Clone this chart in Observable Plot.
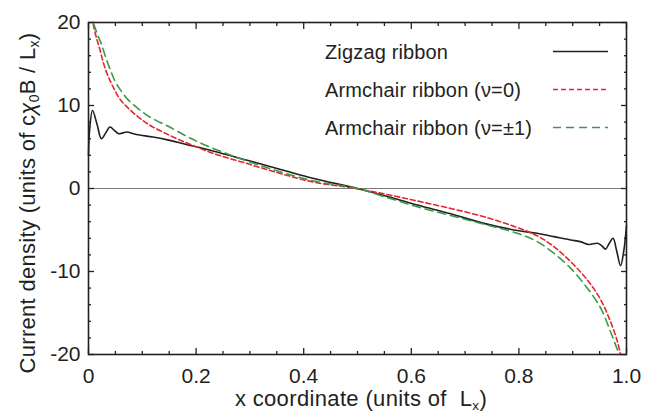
<!DOCTYPE html>
<html>
<head>
<meta charset="utf-8">
<script src="https://cdn.jsdelivr.net/npm/d3@7"></script>
<script src="https://cdn.jsdelivr.net/npm/@observablehq/plot@0.6"></script>
<style>
  html, body { margin: 0; padding: 0; background: #fff; }
  #chart { position: relative; width: 658px; height: 415px; }
</style>
</head>
<body>
<div id="chart"></div>
<script>
// ---- data ----
const zigzagX = [0, 0.002, 0.0075, 0.016, 0.024, 0.032, 0.040, 0.048, 0.056, 0.064, 0.071, 0.089, 0.120, 0.151, 0.182, 0.233, 0.295, 0.357, 0.419, 0.500, 0.549, 0.611, 0.673, 0.735, 0.797, 0.834, 0.865, 0.896, 0.914, 0.930, 0.946, 0.954, 0.961, 0.968, 0.975, 0.982, 0.989, 0.995, 1.0];
const zigzagY = [4.0, 7.0, 9.4, 7.7, 6.0, 6.7, 7.4, 7.0, 6.6, 6.7, 6.8, 6.5, 6.2, 5.8, 5.3, 4.5, 3.4, 2.3, 1.2, 0.0, -0.84, -2.0, -3.05, -4.2, -5.06, -5.4, -5.8, -6.2, -6.4, -6.75, -6.6, -6.9, -7.3, -6.6, -6.0, -7.6, -9.3, -7.5, -4.5];

const armchair0X = [0.0087, 0.015, 0.021, 0.027, 0.0335, 0.040, 0.046, 0.058, 0.072, 0.089, 0.105, 0.120, 0.151, 0.182, 0.201, 0.233, 0.295, 0.357, 0.419, 0.481, 0.549, 0.611, 0.673, 0.735, 0.797, 0.834, 0.865, 0.896, 0.927, 0.952, 0.970, 0.983, 0.989];
const armchair0Y = [19.8, 18.1, 16.8, 15.3, 14.0, 13.0, 12.2, 10.8, 9.8, 8.8, 8.0, 7.4, 6.4, 5.5, 5.0, 4.2, 3.0, 1.8, 0.76, 0.16, -0.64, -1.5, -2.4, -3.4, -4.7, -5.7, -7.0, -8.8, -11.0, -13.4, -16.0, -18.4, -20.0];

const armchair1X = [0.0099, 0.017, 0.024, 0.032, 0.040, 0.048, 0.058, 0.072, 0.089, 0.105, 0.120, 0.151, 0.182, 0.201, 0.233, 0.295, 0.357, 0.419, 0.500, 0.549, 0.611, 0.673, 0.735, 0.797, 0.834, 0.865, 0.896, 0.927, 0.952, 0.970, 0.983, 0.987];
const armchair1Y = [19.8, 18.5, 17.4, 15.8, 14.4, 13.1, 12.0, 10.8, 9.8, 9.0, 8.4, 7.4, 6.3, 5.7, 4.8, 3.3, 2.0, 0.9, 0.0, -0.96, -2.2, -3.25, -4.3, -5.4, -6.4, -7.8, -9.6, -12.0, -14.4, -17.2, -19.4, -20.0];

const seriesNames = ["Zigzag ribbon", "Armchair ribbon (\u03BD=0)", "Armchair ribbon (\u03BD=\u00B11)"];

const xMajor = [0, 0.2, 0.4, 0.6, 0.8, 1.0];
const xTickLabels = ["0", "0.2", "0.4", "0.6", "0.8", "1.0"];
const xMinor = [0.05, 0.1, 0.15, 0.25, 0.3, 0.35, 0.45, 0.5, 0.55, 0.65, 0.7, 0.75, 0.85, 0.9, 0.95];
const yMajor = [-20, -10, 0, 10, 20];
const yTickLabels = ["-20", "-10", "0", "10", "20"];
const yMinor = [-18, -16, -14, -12, -8, -6, -4, -2, 2, 4, 6, 8, 12, 14, 16, 18];

// ---- build tables ----
const zigzag = zigzagX.map((x, i) => ({x, y: zigzagY[i]}));
const armchair0 = armchair0X.map((x, i) => ({x, y: armchair0Y[i]}));
const armchair1 = armchair1X.map((x, i) => ({x, y: armchair1Y[i]}));

const ink = "#231f20";
const red = "#e3262d";
const green = "#3a9a48";
const FONT = "'Liberation Sans', Arial, Helvetica, sans-serif";

const tickOnly = () => "";

const svg = Plot.plot({
  width: 658,
  height: 415,
  marginLeft: 88,
  marginRight: 32,
  marginTop: 22,
  marginBottom: 61,
  style: {fontFamily: FONT, fontSize: "21px", color: ink, background: "#fff"},
  x: {domain: [0, 1], label: null},
  y: {domain: [-20, 20], label: null},
  marks: [
    Plot.ruleY([0], {stroke: "#7a7a7a", strokeWidth: 1}),
    Plot.line(zigzag, {x: "x", y: "y", stroke: ink, strokeWidth: 1.6, curve: "catmull-rom"}),
    Plot.line(armchair0, {x: "x", y: "y", stroke: red, strokeWidth: 1.6, strokeDasharray: "5,3", curve: "catmull-rom"}),
    Plot.line(armchair1, {x: "x", y: "y", stroke: green, strokeWidth: 1.6, strokeDasharray: "8,5", curve: "catmull-rom"}),
    Plot.frame({stroke: ink, strokeWidth: 1.6}),
    // tick labels
    Plot.axisX({anchor: "bottom", ticks: xMajor, tickSize: 0, tickPadding: 14, tickFormat: d => xTickLabels[xMajor.indexOf(d)], fontSize: 21, label: null}),
    Plot.axisY({anchor: "left", ticks: yMajor, tickSize: 0, tickPadding: 8, tickFormat: d => yTickLabels[yMajor.indexOf(d)], fontSize: 21, label: null}),
    // inward ticks
    Plot.axisX({anchor: "bottom", ticks: xMajor, tickSize: -6, tickFormat: tickOnly, label: null, strokeWidth: 1.3}),
    Plot.axisX({anchor: "bottom", ticks: xMinor, tickSize: -3, tickFormat: tickOnly, label: null, strokeWidth: 1.3}),
    Plot.axisX({anchor: "top", ticks: xMajor, tickSize: -6, tickFormat: tickOnly, label: null, strokeWidth: 1.3}),
    Plot.axisX({anchor: "top", ticks: xMinor, tickSize: -3, tickFormat: tickOnly, label: null, strokeWidth: 1.3}),
    Plot.axisY({anchor: "left", ticks: yMajor, tickSize: -6, tickFormat: tickOnly, label: null, strokeWidth: 1.3}),
    Plot.axisY({anchor: "left", ticks: yMinor, tickSize: -3, tickFormat: tickOnly, label: null, strokeWidth: 1.3}),
    Plot.axisY({anchor: "right", ticks: yMajor, tickSize: -6, tickFormat: tickOnly, label: null, strokeWidth: 1.3}),
    Plot.axisY({anchor: "right", ticks: yMinor, tickSize: -3, tickFormat: tickOnly, label: null, strokeWidth: 1.3})
  ]
});

document.getElementById("chart").appendChild(svg);

// ---- axis titles and legend (real text) ----
const s = d3.select(svg);

const xt = s.append("text")
  .attr("x", 361).attr("y", 406)
  .attr("text-anchor", "middle")
  .attr("fill", ink)
  .style("font-family", FONT).style("font-size", "22px").style("letter-spacing", "0.35px");
xt.append("tspan").text("x coordinate (units of  L");
xt.append("tspan").attr("font-size", "13.5px").attr("dy", 3.5).text("x");
xt.append("tspan").attr("dy", -3.5).text(")");

const yt = s.append("text")
  .attr("transform", "translate(35,203) rotate(-90)")
  .attr("text-anchor", "middle")
  .attr("fill", ink)
  .style("font-family", FONT).style("font-size", "22px").style("letter-spacing", "0.3px");
yt.append("tspan").text("Current density (units of c");
yt.append("tspan").attr("font-style", "italic").text("\u03C7");
yt.append("tspan").attr("font-size", "14px").attr("dy", 4).text("0");
yt.append("tspan").attr("dy", -4).text("B / L");
yt.append("tspan").attr("font-size", "14px").attr("dy", 4).text("x");
yt.append("tspan").attr("dy", -4).text(")");

const legendStyles = [
  {stroke: ink, dash: null},
  {stroke: red, dash: "5,3"},
  {stroke: green, dash: "8,5"}
];
const lg = s.append("g");
seriesNames.forEach((name, i) => {
  const base = 59 + i * 38;
  lg.append("text")
    .attr("x", 325).attr("y", base)
    .attr("text-anchor", "start")
    .attr("fill", ink)
    .style("font-family", FONT).style("font-size", "20px").style("letter-spacing", "0.15px")
    .text(name);
  lg.append("line")
    .attr("x1", 553).attr("x2", 608)
    .attr("y1", base - 7.5).attr("y2", base - 7.5)
    .attr("stroke", legendStyles[i].stroke)
    .attr("stroke-width", 1.6)
    .attr("stroke-dasharray", legendStyles[i].dash);
});
</script>
</body>
</html>
